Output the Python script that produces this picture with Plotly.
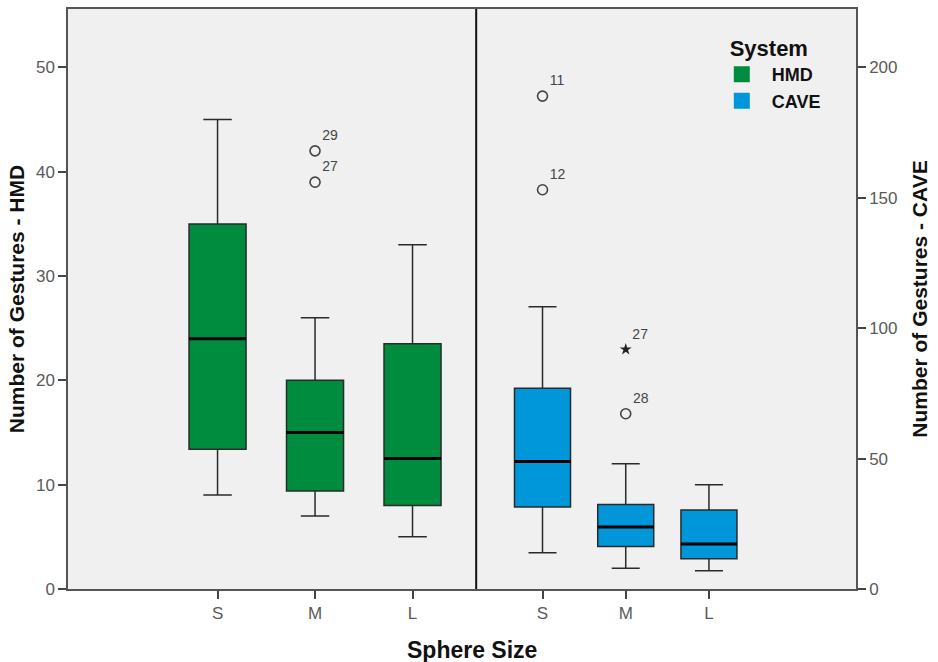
import plotly.graph_objects as go

# Sphere size categories (numeric positions 0,1,2 on each panel)
sizes = ["S", "M", "L"]
pos = [0, 1, 2]

# HMD box statistics (left axis)
hmd_lower = [9.0, 7.0, 5.0]
hmd_q1 = [13.4, 9.4, 8.0]
hmd_median = [24.0, 15.0, 12.5]
hmd_q3 = [35.0, 20.0, 23.5]
hmd_upper = [45.0, 26.0, 33.0]
# HMD outliers
hmd_out_x = [1, 1]
hmd_out_y = [42.0, 39.0]
hmd_out_id = ["29", "27"]

# CAVE box statistics (right axis)
cave_lower = [13.9, 8.0, 7.0]
cave_q1 = [31.4, 16.3, 11.6]
cave_median = [48.9, 23.8, 17.3]
cave_q3 = [77.0, 32.4, 30.3]
cave_upper = [108.2, 48.0, 40.0]
# CAVE outliers (circles) and extreme values (stars)
cave_out_x = [0, 0, 1]
cave_out_y = [189.0, 153.1, 67.2]
cave_out_id = ["11", "12", "28"]
cave_ext_x = [1]
cave_ext_y = [91.9]
cave_ext_id = ["27"]

GREEN = "#008C3E"
BLUE = "#0096DA"
EDGE = "#2a2a2a"
FONT = "Liberation Sans"
LABEL = "#444444"

w_left = 0.585
w_right = 0.673


def median_segments(xs, meds, w):
    sx, sy = [], []
    for x, m in zip(xs, meds):
        sx += [x - w / 2, x + w / 2, None]
        sy += [m, m, None]
    return sx, sy


fig = go.Figure()

fig.add_trace(go.Box(
    x=pos, q1=hmd_q1, median=hmd_median, q3=hmd_q3,
    lowerfence=hmd_lower, upperfence=hmd_upper,
    width=w_left, whiskerwidth=0.5, boxpoints=False,
    fillcolor=GREEN, line=dict(color=EDGE, width=1.5),
    xaxis="x", yaxis="y", showlegend=False, hoverinfo="skip",
))
mx, my = median_segments(pos, hmd_median, w_left)
fig.add_trace(go.Scatter(x=mx, y=my, mode="lines", line=dict(color="black", width=3),
                         xaxis="x", yaxis="y", showlegend=False, hoverinfo="skip"))
fig.add_trace(go.Scatter(
    x=hmd_out_x, y=hmd_out_y, mode="markers+text", text=hmd_out_id,
    textposition="top right", textfont=dict(family=FONT, size=14, color=LABEL),
    marker=dict(symbol="circle-open", size=10, color=LABEL, line=dict(width=1.6)),
    xaxis="x", yaxis="y", showlegend=False, hoverinfo="skip",
))

fig.add_trace(go.Box(
    x=pos, q1=cave_q1, median=cave_median, q3=cave_q3,
    lowerfence=cave_lower, upperfence=cave_upper,
    width=w_right, whiskerwidth=0.5, boxpoints=False,
    fillcolor=BLUE, line=dict(color=EDGE, width=1.5),
    xaxis="x2", yaxis="y2", showlegend=False, hoverinfo="skip",
))
mx, my = median_segments(pos, cave_median, w_right)
fig.add_trace(go.Scatter(x=mx, y=my, mode="lines", line=dict(color="black", width=3),
                         xaxis="x2", yaxis="y2", showlegend=False, hoverinfo="skip"))
fig.add_trace(go.Scatter(
    x=cave_out_x, y=cave_out_y, mode="markers+text", text=cave_out_id,
    textposition="top right", textfont=dict(family=FONT, size=14, color=LABEL),
    marker=dict(symbol="circle-open", size=10, color=LABEL, line=dict(width=1.6)),
    xaxis="x2", yaxis="y2", showlegend=False, hoverinfo="skip",
))
fig.add_trace(go.Scatter(
    x=cave_ext_x, y=cave_ext_y, mode="markers+text", text=cave_ext_id,
    textposition="top right", textfont=dict(family=FONT, size=14, color=LABEL),
    marker=dict(symbol="star", size=9, color="#222"),
    xaxis="x2", yaxis="y2", showlegend=False, hoverinfo="skip",
))

# Legend entries
for name, col in [("HMD", GREEN), ("CAVE", BLUE)]:
    fig.add_trace(go.Scatter(
        x=[None], y=[None], mode="markers", name=name,
        marker=dict(symbol="square", size=20, color=col),
        xaxis="x2", yaxis="y2",
    ))

split = 0.518
axis_common = dict(showline=True, linecolor="#555", linewidth=1.5, ticks="outside",
                   tickcolor="#444", tickwidth=1.5,
                   tickfont=dict(family=FONT, size=17, color="#5a5a5a"),
                   showgrid=False, zeroline=False, fixedrange=True)
title_font = dict(family=FONT, size=21, color="#111", weight="bold")

fig.update_layout(
    width=938, height=662,
    margin=dict(l=68, r=82, t=7, b=73),
    paper_bgcolor="white", plot_bgcolor="#F0F0F0",
    font=dict(family=FONT),
    xaxis=dict(domain=[0, split], range=[-1.534, 2.653], tickvals=pos, ticktext=sizes,
               ticklen=8, mirror=True, anchor="y", **axis_common),
    xaxis2=dict(domain=[split, 1], range=[-0.797, 3.767], tickvals=pos, ticktext=sizes,
                ticklen=8, mirror=True, anchor="y2", **axis_common),
    yaxis=dict(range=[0, 55.6], dtick=10, ticklen=8, anchor="x",
               title=dict(text="Number of Gestures - HMD", standoff=6, font=title_font),
               **axis_common),
    yaxis2=dict(range=[0, 222.4], dtick=50, ticklen=8, anchor="x2", side="right",
                title=dict(text="Number of Gestures - CAVE", standoff=16, font=title_font),
                **axis_common),
    legend=dict(
        x=0.817, y=0.968, xanchor="left", yanchor="top",
        bgcolor="rgba(0,0,0,0)",
        title=dict(text="System", side="top center",
                   font=dict(family=FONT, size=22, color="#111", weight="bold")),
        font=dict(family=FONT, size=18, color="#111", weight="bold"),
        itemwidth=50, tracegroupgap=0,
    ),
    annotations=[dict(text="Sphere Size", xref="paper", yref="paper", x=0.513, y=-0.08,
                      xanchor="center", yanchor="top", showarrow=False,
                      font=dict(family=FONT, size=23, color="#111", weight="bold"))],
    shapes=[dict(type="line", xref="paper", yref="paper", x0=split, x1=split, y0=0, y1=1,
                 line=dict(color="#111", width=2))],
)

fig.write_html("out.html")
